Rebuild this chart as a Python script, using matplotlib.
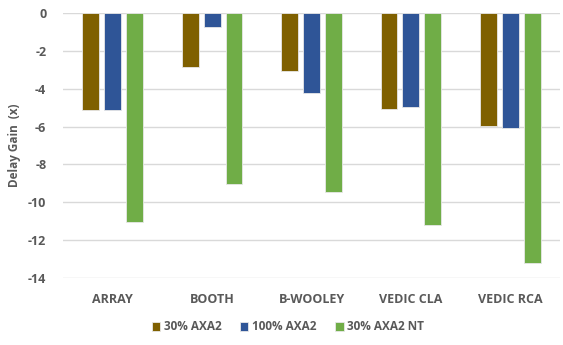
import matplotlib
matplotlib.use("Agg")
import matplotlib.pyplot as plt
import numpy as np

categories = ["ARRAY", "BOOTH", "B-WOOLEY", "VEDIC CLA", "VEDIC RCA"]
series_names = ["30% AXA2", "100% AXA2", "30% AXA2 NT"]
axa2_30 = [-5.1, -2.85, -3.05, -5.05, -5.97]
axa2_100 = [-5.1, -0.75, -4.2, -4.98, -6.1]
axa2_30_nt = [-11.05, -9.05, -9.45, -11.2, -13.2]
y_ticks = [0, -2, -4, -6, -8, -10, -12, -14]

colors = ["#7F6000", "#2F5597", "#70AD47"]
text_color = "#595959"
plt.rcParams["font.family"] = ["Open Sans", "DejaVu Sans"]

fig = plt.figure(figsize=(5.63, 3.45), dpi=100)
ax = fig.add_axes([63 / 563, 1 - 278 / 345, 497 / 563, 265 / 345])

x = np.arange(len(categories))
width = 0.17
step = 0.22
for i, (vals, name, c) in enumerate(zip([axa2_30, axa2_100, axa2_30_nt], series_names, colors)):
    ax.bar(x + (i - 1) * step, vals, width=width, color=c, label=name,
           edgecolor="#e8e8e8", linewidth=0.6, zorder=3)

ax.set_xlim(-0.5, len(categories) - 0.5)
ax.set_ylim(-14, 0)
ax.set_yticks(y_ticks)
ax.set_yticklabels([str(t) for t in y_ticks])
ax.set_xticks(x)
ax.set_xticklabels(categories)
ax.grid(axis="y", color="#d9d9d9", linewidth=1.0, zorder=0)
for s in ax.spines.values():
    s.set_visible(False)
ax.tick_params(axis="both", length=0, colors=text_color, labelsize=9)
ax.tick_params(axis="y", pad=12)
ax.tick_params(axis="x", pad=11)
for lbl in ax.get_xticklabels() + ax.get_yticklabels():
    lbl.set_fontweight("bold")

fig.text(15 / 563, 1 - 145 / 345, "Delay Gain  (x)", rotation=90, ha="center", va="center",
         fontsize=8.5, fontweight="bold", color=text_color)

handles, labels = ax.get_legend_handles_labels()
leg = fig.legend(handles, labels, loc="center", bbox_to_anchor=(288 / 563, 1 - 327 / 345),
                 ncol=3, frameon=False, fontsize=8.5, handlelength=0.7, handleheight=0.7,
                 handletextpad=0.3, columnspacing=1.6)
for t in leg.get_texts():
    t.set_color(text_color)
    t.set_fontweight("bold")

fig.savefig("out.png", dpi=100, facecolor="white")
